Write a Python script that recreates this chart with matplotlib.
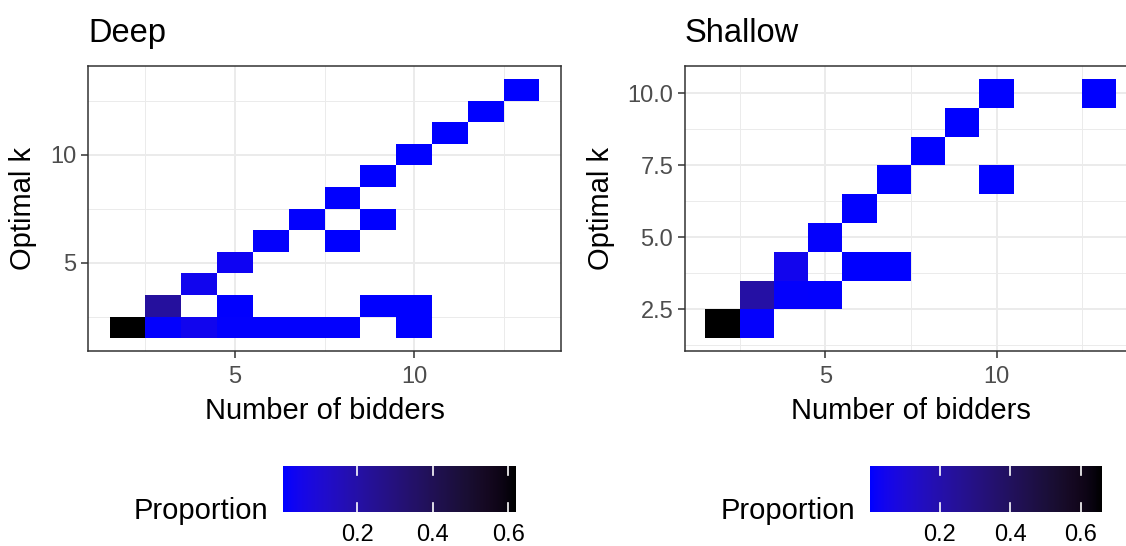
import numpy as np
import matplotlib
matplotlib.use("Agg")
import matplotlib.pyplot as plt
from matplotlib.colors import ListedColormap, Normalize

# Deep auctions: (bidders, optimal k) -> proportion
deep_bidders = [2, 3, 3, 4, 4, 5, 5, 5, 6, 6, 7, 7, 8, 8, 8, 9, 9, 9, 10, 10, 10, 11, 12, 13]
deep_k = [2, 2, 3, 2, 4, 2, 3, 5, 2, 6, 2, 7, 2, 6, 8, 3, 7, 9, 2, 3, 10, 11, 12, 13]
deep_prop = [0.62, 0.008, 0.22, 0.04, 0.04, 0.01, 0.006, 0.03, 0.01, 0.012, 0.008, 0.008,
             0.008, 0.003, 0.006, 0.004, 0.003, 0.004, 0.003, 0.004, 0.004, 0.003, 0.003, 0.003]

# Shallow auctions
shallow_bidders = [2, 3, 3, 4, 4, 5, 5, 6, 6, 7, 7, 8, 9, 10, 10, 13]
shallow_k = [2, 2, 3, 3, 4, 3, 5, 4, 6, 4, 7, 8, 9, 7, 10, 10]
shallow_prop = [0.66, 0.01, 0.22, 0.012, 0.045, 0.008, 0.01, 0.004, 0.006, 0.004, 0.004,
                0.003, 0.003, 0.002, 0.003, 0.002]

cbar_ticks = [0.2, 0.4, 0.6]

FONT = "Liberation Sans"
plt.rcParams["font.family"] = [FONT, "DejaVu Sans"]

GRID = "#EBEBEB"
DARK = "#333333"
TICKTXT = "#4D4D4D"


# blue -> black gradient interpolated in Lab space (like scale_fill_gradient)
def _rgb_to_lab(rgb):
    rgb = np.asarray(rgb, dtype=float)
    lin = np.where(rgb <= 0.04045, rgb / 12.92, ((rgb + 0.055) / 1.055) ** 2.4)
    M = np.array([[0.4124, 0.3576, 0.1805],
                  [0.2126, 0.7152, 0.0722],
                  [0.0193, 0.1192, 0.9505]])
    X, Y, Z = M @ lin
    X, Z = X / 0.95047, Z / 1.08883
    f = lambda t: np.where(t > (6 / 29) ** 3, np.cbrt(t), t / (3 * (6 / 29) ** 2) + 4 / 29)
    fx, fy, fz = f(X), f(Y), f(Z)
    return np.array([116 * fy - 16, 500 * (fx - fy), 200 * (fy - fz)])


def _lab_to_rgb(lab):
    L, a, b = lab
    fy = (L + 16) / 116
    fx = fy + a / 500
    fz = fy - b / 200
    finv = lambda t: np.where(t > 6 / 29, t ** 3, 3 * (6 / 29) ** 2 * (t - 4 / 29))
    xyz = np.array([0.95047 * finv(fx), finv(fy), 1.08883 * finv(fz)])
    M = np.array([[3.2406, -1.5372, -0.4986],
                  [-0.9689, 1.8758, 0.0415],
                  [0.0557, -0.2040, 1.0570]])
    lin = np.clip(M @ xyz, 0, 1)
    srgb = np.where(lin <= 0.0031308, 12.92 * lin, 1.055 * lin ** (1 / 2.4) - 0.055)
    return np.clip(srgb, 0, 1)


def lab_gradient(low, high, n=256):
    lo, hi = _rgb_to_lab(low), _rgb_to_lab(high)
    cols = [_lab_to_rgb(lo + (hi - lo) * t) for t in np.linspace(0, 1, n)]
    return ListedColormap(cols)


cmap = lab_gradient((0, 0, 1), (0, 0, 0))


def tile_plot(fig, rect, cbar_rect, bidders, k, prop, title, yticks, yminor, ylabels):
    ax = fig.add_axes(rect)
    xs = np.arange(min(bidders), max(bidders) + 1)
    ys = np.arange(min(k), max(k) + 1)
    grid = np.full((len(ys), len(xs)), np.nan)
    for b, kk, p in zip(bidders, k, prop):
        grid[kk - ys[0], b - xs[0]] = p
    grid = np.ma.masked_invalid(grid)

    norm = Normalize(vmin=min(prop), vmax=max(prop))
    xe = np.append(xs - 0.5, xs[-1] + 0.5)
    ye = np.append(ys - 0.5, ys[-1] + 0.5)
    mesh = ax.pcolormesh(xe, ye, grid, cmap=cmap, norm=norm, zorder=2)

    # ggplot-style 5% expansion
    xr = xe[-1] - xe[0]
    yr = ye[-1] - ye[0]
    ax.set_xlim(xe[0] - 0.05 * xr, xe[-1] + 0.05 * xr)
    ax.set_ylim(ye[0] - 0.05 * yr, ye[-1] + 0.05 * yr)

    ax.set_xticks([5, 10])
    ax.set_xticks([2.5, 7.5, 12.5], minor=True)
    ax.set_yticks(yticks)
    ax.set_yticklabels(ylabels)
    ax.set_yticks(yminor, minor=True)

    ax.set_axisbelow(True)
    ax.grid(True, which="major", color=GRID, lw=1.4, zorder=0)
    ax.grid(True, which="minor", color=GRID, lw=0.7, zorder=0)
    ax.tick_params(which="major", length=5, width=1.1, color=DARK, labelsize=17,
                   labelcolor=TICKTXT, pad=3.5)
    ax.tick_params(axis="x", which="major", pad=5.5)
    ax.tick_params(which="minor", length=0)
    for s in ax.spines.values():
        s.set_color(DARK)
        s.set_linewidth(1.1)

    ax.set_xlabel("Number of bidders", fontsize=21, labelpad=6.5)
    ax.set_ylabel("Optimal k", fontsize=21, labelpad=9)
    ax.set_title(title, loc="left", fontsize=23.5, pad=17.5)

    # horizontal colour bar below
    cax = fig.add_axes(cbar_rect)
    cb = fig.colorbar(mesh, cax=cax, orientation="horizontal", ticks=cbar_ticks)
    cb.outline.set_visible(False)
    cax.tick_params(length=0, labelsize=17, pad=9)
    cax.set_xticklabels([f"{t:.1f}" for t in cbar_ticks])
    for t in cbar_ticks:
        cax.axvline(t, ymin=0, ymax=0.2, color="white", lw=1.2)
        cax.axvline(t, ymin=0.8, ymax=1, color="white", lw=1.2)
    cax.text(-0.065, -0.15, "Proportion", transform=cax.transAxes, ha="right",
             va="baseline", fontsize=21)
    return ax


fig = plt.figure(figsize=(11.26, 5.46), dpi=100)

tile_plot(fig, [0.0782, 0.357, 0.420, 0.522], [0.2513, 0.0623, 0.2069, 0.0842],
          deep_bidders, deep_k, deep_prop, "Deep",
          [5, 10], [2.5, 7.5, 12.5], ["5", "10"])

tile_plot(fig, [0.6083, 0.357, 0.4014, 0.522], [0.7726, 0.0623, 0.2060, 0.0842],
          shallow_bidders, shallow_k, shallow_prop, "Shallow",
          [2.5, 5, 7.5, 10], [1.25, 3.75, 6.25, 8.75], ["2.5", "5.0", "7.5", "10.0"])

fig.savefig("out.png", dpi=100)
